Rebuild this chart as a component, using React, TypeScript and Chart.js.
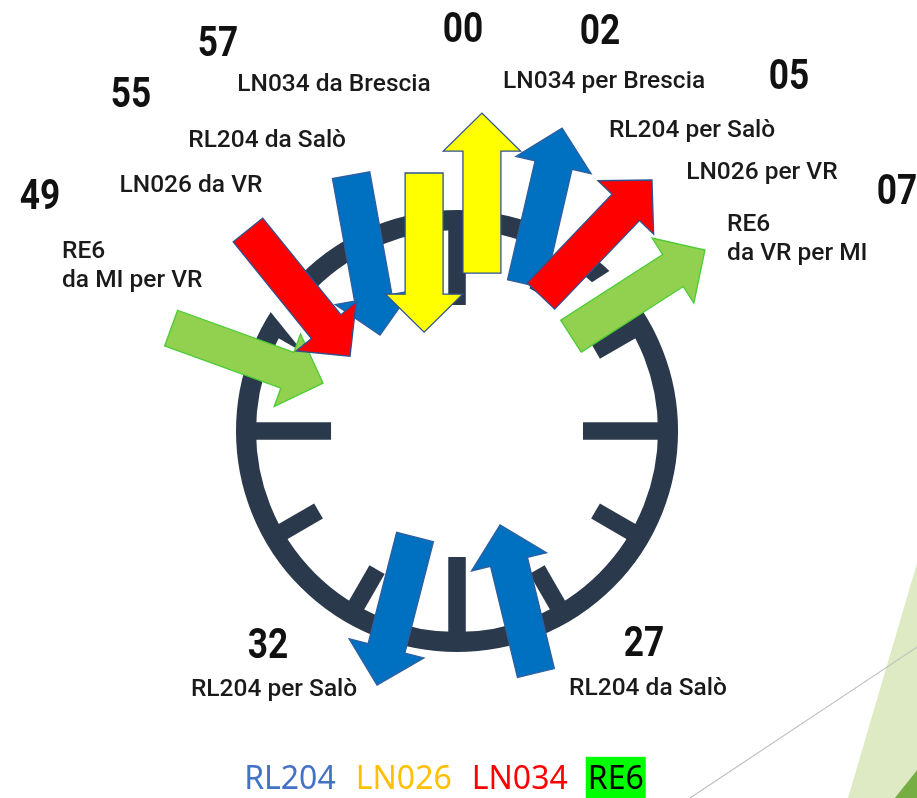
import React, { useEffect, useRef } from "react";
import { Chart, registerables } from "chart.js";

Chart.register(...registerables);

// ---------- DATA ----------
// Services shown around the clock (arrows), in drawing order
const arrowMinutes = ["49", "55", "55", "57", "00", "02", "05", "07", "32", "27"];
const arrowLines = ["RE6", "RL204", "LN026", "LN034", "LN034", "RL204", "LN026", "RE6", "RL204", "RL204"];
const arrowDirections = ["in", "in", "in", "in", "out", "out", "out", "out", "out", "in"];

// Minute labels
const minuteLabels = ["57", "55", "49", "00", "02", "05", "07", "32", "27"];

// Service labels
const serviceLabels = [
  "LN034 da Brescia",
  "RL204 da Salò",
  "LN026 da VR",
  "RE6\nda MI per VR",
  "LN034 per Brescia",
  "RL204 per Salò",
  "LN026 per VR",
  "RE6\nda VR per MI",
  "RL204 per Salò",
  "RL204 da Salò",
];

// Legend
const legendItems = ["RL204", "LN026", "LN034", "RE6"];

// Clock ticks (minutes)
const tickMinutes = [0, 5, 10, 15, 20, 25, 30, 35, 40, 45, 50, 55];

// ---------- LAYOUT (clock units, ring centre-line radius = 100) ----------
const X_MIN = -216.6, X_MAX = 218.0, Y_MIN = -173.9, Y_MAX = 204.3;

const arrowTailX = [-135.5, -50.2, -99.1, -15.6, 11.8, 32.7, 39.8, 54.0, -19.9, 37.4];
const arrowTailY = [48.8, 121.3, 95.3, 122.3, 74.9, 69.7, 64.0, 45.0, -50.2, -114.7];
const arrowTipX = [-63.5, -36.5, -50.7, -15.6, 11.8, 49.8, 92.4, 117.5, -37.9, 20.4];
const arrowTipY = [22.7, 45.5, 35.5, 46.9, 150.7, 143.6, 119.0, 85.8, -120.4, -44.5];
const arrowHalo = [0, 0, -1, 0, 0, 0, 1, 1, 0, 0];

const minuteLabelX = [-113.3, -154.5, -197.6, 2.8, 67.8, 157.3, 208.5, -89.6, 88.6];
const minuteLabelY = [182.5, 158.8, 110.0, 189.6, 188.6, 167.3, 112.8, -102.8, -101.4];

const serviceX = [-58.3, -90.0, -126.1, -187.2, 69.7, 111.4, 144.5, 128.0, -86.7, 90.5];
const serviceY = [164.0, 137.4, 116.1, 84.8, 165.4, 142.2, 122.3, 97.6, -122.7, -122.3];
const serviceAlign = ["center", "center", "center", "left", "center", "center", "center", "left", "center", "center"];

// ---------- STYLE ----------
const arrowFill: Record<string, string> = {
  RE6: "#92D050",
  RL204: "#0070C0",
  LN026: "#FF0000",
  LN034: "#FFFF00",
};
const arrowStroke: Record<string, string> = {
  RE6: "#4CCB35",
  RL204: "#2F5F9F",
  LN026: "#2F528F",
  LN034: "#2F528F",
};
const legendColors = ["#4472C4", "#FFC000", "#FF0000", "#000000"];
const legendBg = ["", "", "", "#00FF00"];
const RING_COLOR = "#2B394C";

function drawText(
  ctx: CanvasRenderingContext2D,
  text: string,
  x: number,
  y: number,
  font: string,
  color: string,
  align: CanvasTextAlign,
  sx = 1
) {
  ctx.save();
  ctx.font = font;
  ctx.fillStyle = color;
  ctx.textAlign = align;
  ctx.textBaseline = "middle";
  ctx.translate(x, y);
  ctx.scale(sx, 1);
  ctx.fillText(text, 0, 0);
  ctx.restore();
}

const clockPlugin = {
  id: "clockPlugin",
  beforeDraw(chart: any) {
    const ctx: CanvasRenderingContext2D = chart.ctx;
    const xs = chart.scales.x;
    const ys = chart.scales.y;
    const px = (v: number) => xs.getPixelForValue(v);
    const py = (v: number) => ys.getPixelForValue(v);
    ctx.save();
    ctx.fillStyle = "#FFFFFF";
    ctx.fillRect(0, 0, chart.width, chart.height);
    // slide decoration (bottom right)
    ctx.fillStyle = "#DDEAC3";
    ctx.beginPath();
    ctx.moveTo(px(218.0), py(-62.6));
    ctx.lineTo(px(185.3), py(-173.9));
    ctx.lineTo(px(218.0), py(-173.9));
    ctx.closePath();
    ctx.fill();
    ctx.fillStyle = "#77AE43";
    ctx.beginPath();
    ctx.moveTo(px(218.0), py(-160.7));
    ctx.lineTo(px(207.5), py(-173.9));
    ctx.lineTo(px(218.0), py(-173.9));
    ctx.closePath();
    ctx.fill();
    ctx.strokeStyle = "#BFBFBF";
    ctx.lineWidth = 1.2;
    ctx.beginPath();
    ctx.moveTo(px(218.0), py(-102.4));
    ctx.lineTo(px(110.4), py(-173.9));
    ctx.stroke();
    ctx.restore();
  },
  afterDatasetsDraw(chart: any) {
    const ctx: CanvasRenderingContext2D = chart.ctx;
    const xs = chart.scales.x;
    const ys = chart.scales.y;
    const px = (v: number) => xs.getPixelForValue(v);
    const py = (v: number) => ys.getPixelForValue(v);
    const k = px(1) - px(0);
    const cx = px(0), cy = py(0);

    ctx.save();
    // ring
    ctx.strokeStyle = RING_COLOR;
    ctx.lineWidth = 9.5 * k;
    ctx.beginPath();
    ctx.arc(cx, cy, 100 * k, 0, Math.PI * 2);
    ctx.stroke();
    // ticks
    ctx.lineWidth = 8.3 * k;
    ctx.lineCap = "butt";
    tickMinutes.forEach((m) => {
      const a = (m * 6 * Math.PI) / 180;
      const inner = m % 15 === 0 ? 59.7 : 75.8;
      const sx = Math.sin(a), sy = Math.cos(a);
      ctx.beginPath();
      ctx.moveTo(px(sx * 100), py(sy * 100));
      ctx.lineTo(px(sx * inner), py(sy * inner));
      ctx.stroke();
    });

    // arrows
    const shaftHalf = 9 * k, headHalf = 18.3 * k, headLen = 18 * k;
    const polys: { pts: [number, number][]; nx: number; ny: number }[] = [];
    for (let i = 0; i < arrowLines.length; i++) {
      const tx = px(arrowTailX[i]), ty = py(arrowTailY[i]);
      const hx = px(arrowTipX[i]), hy = py(arrowTipY[i]);
      const len = Math.hypot(hx - tx, hy - ty);
      const dx = (hx - tx) / len, dy = (hy - ty) / len;
      const nx = -dy, ny = dx;
      const bx = hx - dx * headLen, by = hy - dy * headLen;
      const pts: [number, number][] = [
        [tx + nx * shaftHalf, ty + ny * shaftHalf],
        [bx + nx * shaftHalf, by + ny * shaftHalf],
        [bx + nx * headHalf, by + ny * headHalf],
        [hx, hy],
        [bx - nx * headHalf, by - ny * headHalf],
        [bx - nx * shaftHalf, by - ny * shaftHalf],
        [tx - nx * shaftHalf, ty - ny * shaftHalf],
      ];
      // left side on screen = (dy, -dx)
      polys.push({ pts, nx: dy, ny: -dx });
    }
    const path = (pts: [number, number][], ox = 0, oy = 0) => {
      ctx.beginPath();
      pts.forEach(([x, y], j) => (j === 0 ? ctx.moveTo(x + ox, y + oy) : ctx.lineTo(x + ox, y + oy)));
      ctx.closePath();
    };
    // white halos
    ctx.fillStyle = "#FFFFFF";
    polys.forEach((p, i) => {
      if (!arrowHalo[i]) return;
      const off = 15 * arrowHalo[i];
      path(p.pts, p.nx * off, p.ny * off);
      ctx.fill();
    });
    polys.forEach((p, i) => {
      path(p.pts);
      ctx.fillStyle = arrowFill[arrowLines[i]];
      ctx.fill();
      ctx.lineWidth = 1.3;
      ctx.lineJoin = "miter";
      ctx.strokeStyle = arrowStroke[arrowLines[i]];
      ctx.stroke();
    });
    ctx.restore();

    // minute labels
    minuteLabels.forEach((t, i) => {
      drawText(ctx, t, px(minuteLabelX[i]), py(minuteLabelY[i]), "700 42px Roboto", "#111111", "center", 0.84);
    });
    // service labels
    serviceLabels.forEach((t, i) => {
      const lines = t.split("\n");
      lines.forEach((ln, j) => {
        drawText(
          ctx,
          ln,
          px(serviceX[i]),
          py(serviceY[i] - j * 13.8),
          "500 24.5px Roboto",
          "#1A1A1A",
          serviceAlign[i] as CanvasTextAlign,
          1
        );
      });
    });

    // legend
    ctx.save();
    const lf = "32px 'Noto Sans'";
    ctx.font = lf;
    const gap = 20;
    const widths = legendItems.map((t) => ctx.measureText(t).width);
    const total = widths.reduce((a, b) => a + b, 0) + gap * (legendItems.length - 1);
    let x = px(-6.2) - total / 2;
    const ly = py(-165.3);
    legendItems.forEach((t, i) => {
      if (legendBg[i]) {
        ctx.fillStyle = legendBg[i];
        ctx.fillRect(x - 2, ly - 23, widths[i] + 4, 45);
      }
      drawText(ctx, t, x, ly, lf, legendColors[i], "left", 1);
      x += widths[i] + gap;
    });
    ctx.restore();
  },
};

export default function App() {
  const canvasRef = useRef<HTMLCanvasElement | null>(null);

  useEffect(() => {
    const canvas = canvasRef.current;
    if (!canvas) return;
    const chart = new Chart(canvas, {
      type: "scatter",
      data: {
        datasets: [
          {
            label: "arrows",
            data: arrowTipX.map((x, i) => ({ x, y: arrowTipY[i] })),
            pointRadius: 0,
            showLine: false,
          },
        ],
      },
      options: {
        responsive: false,
        animation: false,
        devicePixelRatio: 1,
        layout: { padding: 0 },
        plugins: { legend: { display: false }, tooltip: { enabled: false } },
        scales: {
          x: { type: "linear", min: X_MIN, max: X_MAX, display: false },
          y: { type: "linear", min: Y_MIN, max: Y_MAX, display: false },
        },
      },
      plugins: [clockPlugin],
    });
    return () => chart.destroy();
  }, []);

  return (
    <div style={{ position: "fixed", left: 0, top: 0, width: 917, height: 798, background: "#fff" }}>
      <canvas ref={canvasRef} width={917} height={798} style={{ display: "block" }} />
    </div>
  );
}
